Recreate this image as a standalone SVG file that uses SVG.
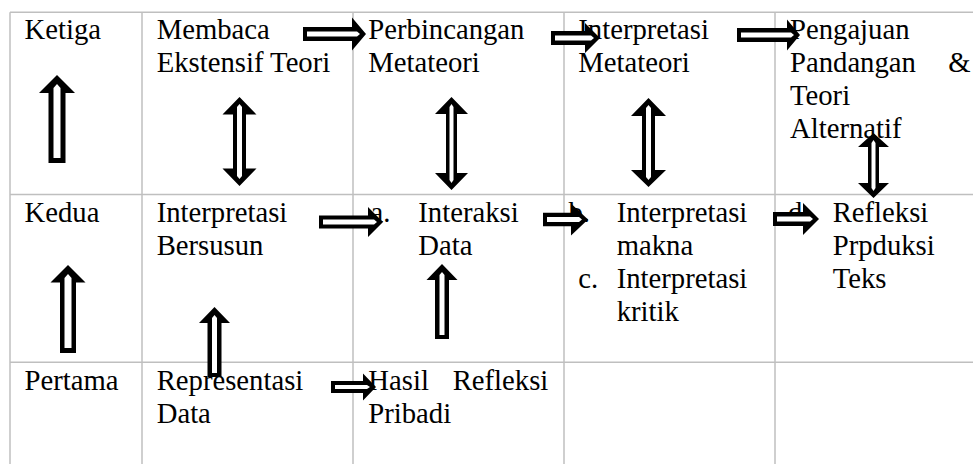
<svg xmlns="http://www.w3.org/2000/svg" width="973" height="464" viewBox="0 0 973 464">
<style>
.grid line{stroke:#bfbfbf;stroke-width:1.5}
text{font-family:"Liberation Serif","Times New Roman",serif;font-size:28.7px;fill:#000}
.ao{fill:#000}
.ai{fill:#fff}
</style>
<rect width="973" height="464" fill="#fff"/>
<g class="grid">
<line x1="10" y1="12.3" x2="973" y2="12.3"/>
<line x1="10" y1="194.5" x2="973" y2="194.5"/>
<line x1="10" y1="362.3" x2="973" y2="362.3"/>
<line x1="10" y1="12.3" x2="10" y2="464"/>
<line x1="142" y1="12.3" x2="142" y2="464"/>
<line x1="353" y1="12.3" x2="353" y2="464"/>
<line x1="564" y1="12.3" x2="564" y2="464"/>
<line x1="775" y1="12.3" x2="775" y2="464"/>
</g>
<g id="ketiga"><text x="24.5" y="39">Ketiga</text></g>
<g id="kedua"><text x="24.5" y="222">Kedua</text></g>
<g id="pertama"><text x="24.5" y="390">Pertama</text></g>
<g id="membaca"><text x="156.7" y="39">Membaca</text><text x="156.7" y="72">Ekstensif Teori</text></g>
<g id="perbincangan"><text x="368.3" y="39">Perbincangan</text><text x="368.3" y="72">Metateori</text></g>
<g id="interpretasi-metateori"><text x="578.3" y="39">Interpretasi</text><text x="578.3" y="72">Metateori</text></g>
<g id="pengajuan"><text x="790" y="39">Pengajuan</text><text y="72"><tspan x="790">Pandangan </tspan><tspan x="948.3">&amp;</tspan></text><text x="790" y="105">Teori</text><text x="790" y="138">Alternatif</text></g>
<g id="interpretasi-bersusun"><text x="156.7" y="222">Interpretasi</text><text x="156.7" y="255">Bersusun</text></g>
<g id="interaksi"><text x="370.5" y="222">a.</text><text x="418.3" y="222">Interaksi</text><text x="418.3" y="255">Data</text></g>
<g id="interpretasi-makna"><text x="568.5" y="222">b.</text><text x="616.7" y="222">Interpretasi</text><text x="616.7" y="255">makna</text><text x="578.3" y="288">c.</text><text x="616.7" y="288">Interpretasi</text><text x="616.7" y="321">kritik</text></g>
<g id="refleksi"><text x="788" y="222">d.</text><text x="832.7" y="222">Refleksi</text><text x="832.7" y="255">Prpduksi</text><text x="832.7" y="288">Teks</text></g>
<g id="representasi"><text x="156.7" y="390">Representasi</text><text x="156.7" y="423">Data</text></g>
<g id="hasil"><text y="390"><tspan x="368.3">Hasil </tspan><tspan x="452.7">Refleksi</tspan></text><text x="368.3" y="423">Pribadi</text></g>
<g id="connectors">
<polygon class="ao" points="303,27 352,27 352,17.5 366,34 352,50.5 352,41 303,41"/>
<polygon class="ai" points="307,31.5 357,31.5 360,34 357,36.5 307,36.5"/>
<polygon class="ao" points="551,31 585,31 585,23 600,38 585,53 585,45 551,45"/>
<polygon class="ai" points="555,35.5 591,35.5 594,38 591,40.5 555,40.5"/>
<polygon class="ao" points="737,28 787,28 787,19.5 800,35 787,50.5 787,42 737,42"/>
<polygon class="ai" points="741,32.5 791,32.5 794,35 791,37.5 741,37.5"/>
<polygon class="ao" points="319,215.5 368,215.5 368,207 383,222 368,237 368,228.5 319,228.5"/>
<polygon class="ai" points="323,219.5 374,219.5 377,222 374,224.5 323,224.5"/>
<polygon class="ao" points="543,212.8 571,212.8 571,203.5 588,219.5 571,235.5 571,226.2 543,226.2"/>
<polygon class="ai" points="547,217 579,217 582,219.5 579,222 547,222"/>
<polygon class="ao" points="773,212 803,212 803,203 819,219 803,235 803,226 773,226"/>
<polygon class="ai" points="777,216.5 810,216.5 813,219 810,221.5 777,221.5"/>
<polygon class="ao" points="331,381 363,381 363,373.5 376,387 363,400.5 363,393 331,393"/>
<polygon class="ai" points="335,385 367,385 370,387 367,389 335,389"/>
<polygon class="ao" points="57,75 75,93 65.5,93 65.5,163 48.5,163 48.5,93 39,93"/>
<polygon class="ai" points="57,84 60.5,88 60.5,158 53.5,158 53.5,88"/>
<polygon class="ao" points="68,265 85.5,282.5 76,282.5 76,353 60,353 60,282.5 50.5,282.5"/>
<polygon class="ai" points="68,274 71.5,278 71.5,348 64.5,348 64.5,278"/>
<polygon class="ao" points="214.5,307 230,323 221.5,323 221.5,377 207.5,377 207.5,323 199,323"/>
<polygon class="ai" points="214.5,315 217,318 217,373 212,373 212,318"/>
<polygon class="ao" points="442,264 457.5,280 449,280 449,339 435,339 435,280 426.5,280"/>
<polygon class="ai" points="442,272 444.5,275 444.5,335 439.5,335 439.5,275"/>
<polygon class="ao" points="239.5,97 256.5,114.5 246,114.5 246,168.5 256.5,168.5 239.5,186 222.5,168.5 233,168.5 233,114.5 222.5,114.5"/>
<polygon class="ai" points="239.5,104 242,107 242,176 239.5,179 237,176 237,107"/>
<polygon class="ao" points="451.5,97 468,114 457,114 457,173 468,173 451.5,190 435,173 446,173 446,114 435,114"/>
<polygon class="ai" points="451.5,104 453.5,107 453.5,180 451.5,183 449.5,180 449.5,107"/>
<polygon class="ao" points="648.5,98 666,116 655,116 655,170 666,170 648.5,187 631,170 642,170 642,116 631,116"/>
<polygon class="ai" points="648.5,105 651,108 651,177 648.5,180 646,177 646,108"/>
<polygon class="ao" points="873.5,133 889,147 879,147 879,183 889,183 873.5,198 858,183 868,183 868,147 858,147"/>
<polygon class="ai" points="873.5,140 875.5,143 875.5,188 873.5,191 871.5,188 871.5,143"/>
</g>
</svg>
